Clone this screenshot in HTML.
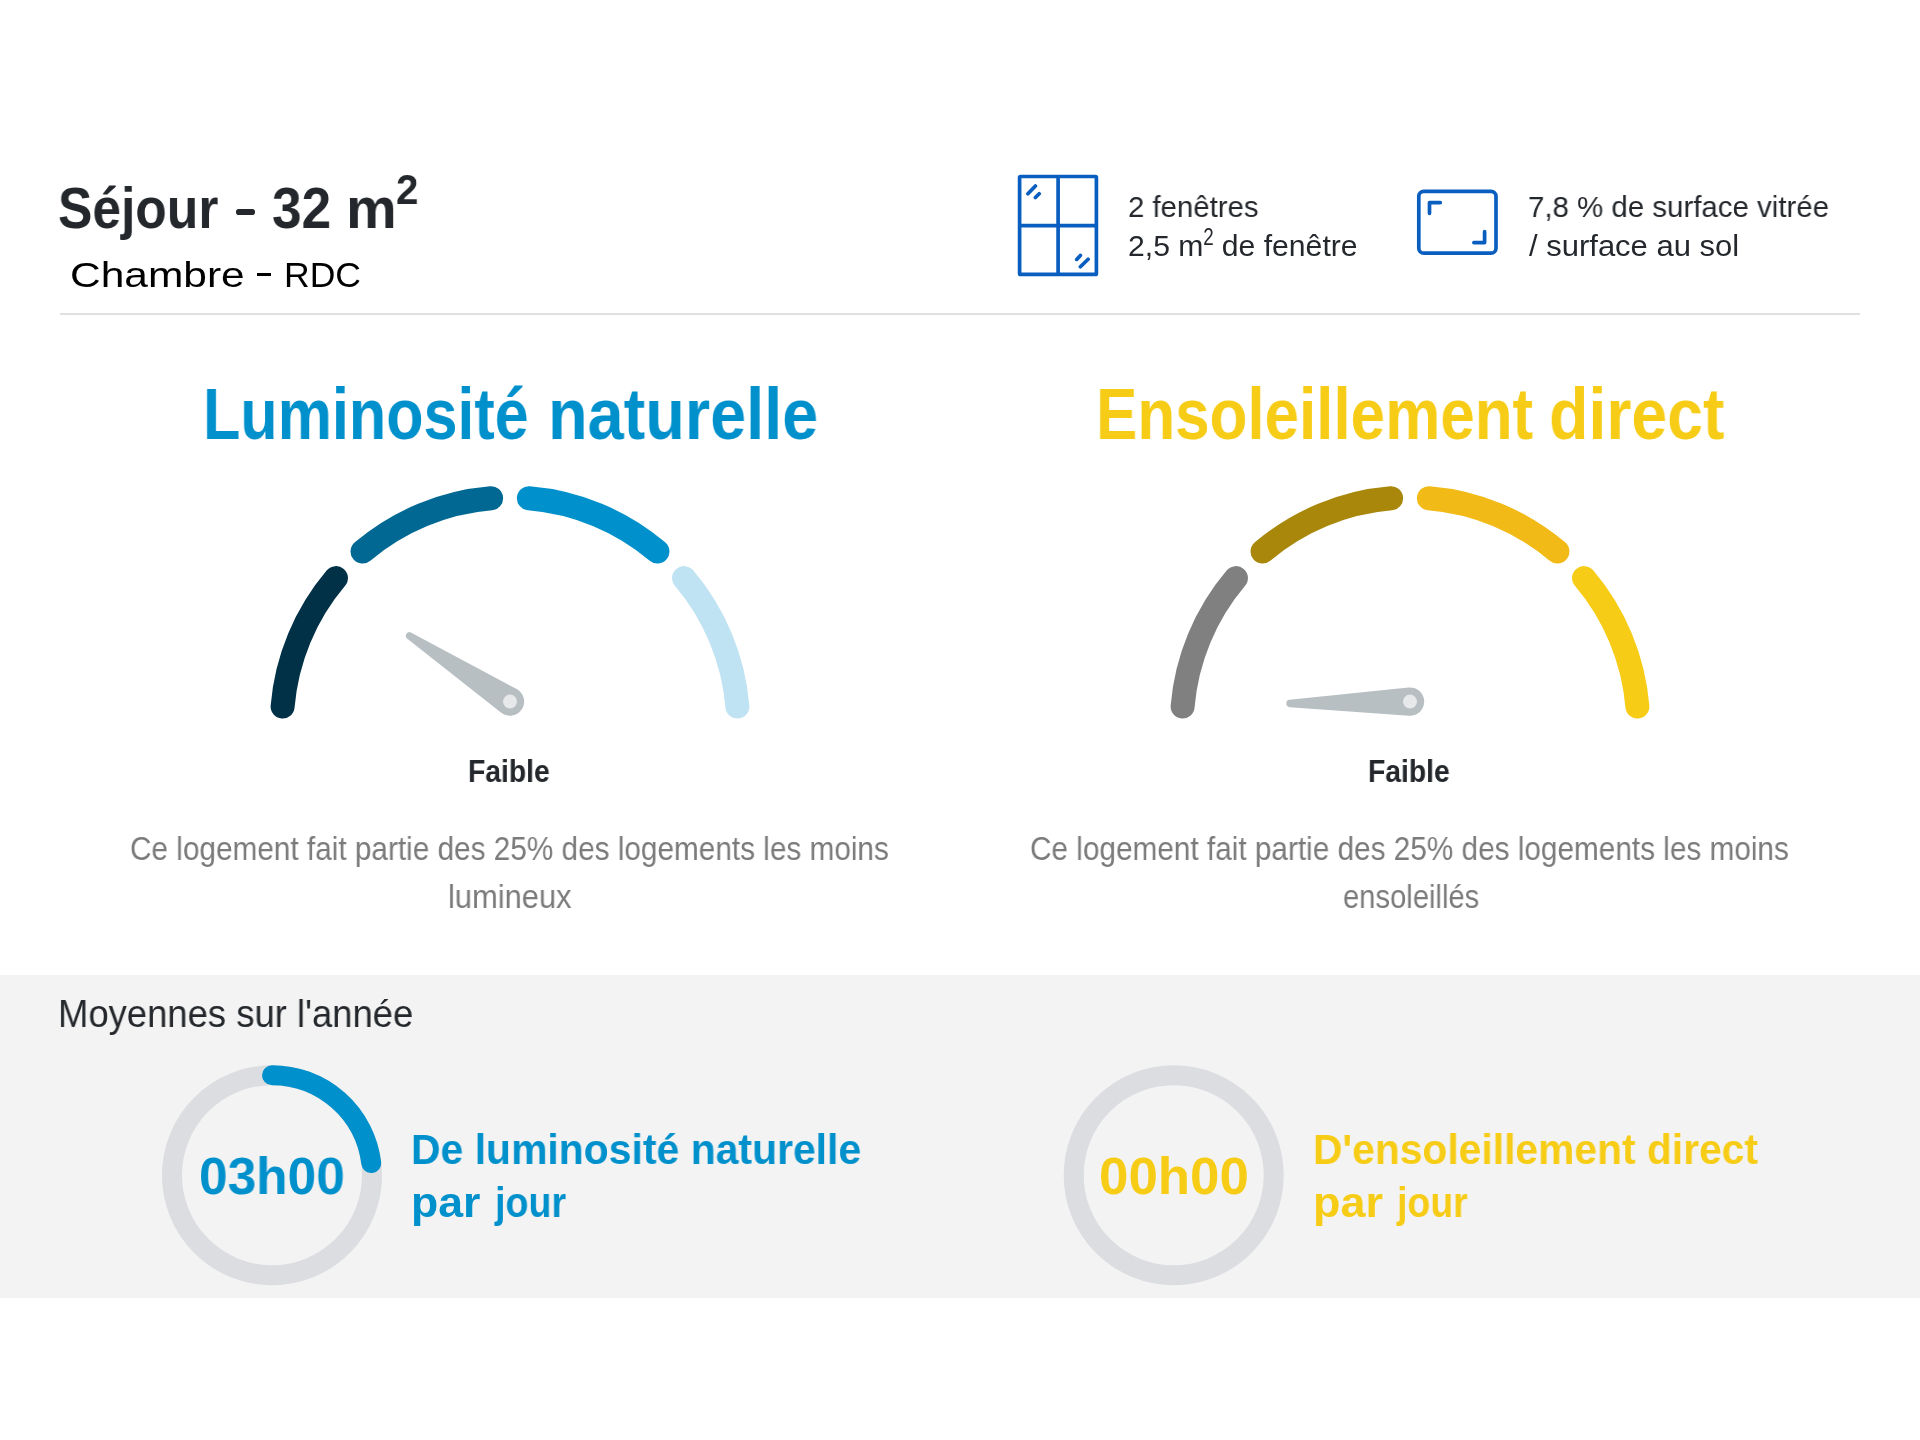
<!DOCTYPE html>
<html lang="fr"><head><meta charset="utf-8"><title>Luminosité</title>
<style>
html,body{margin:0;padding:0;background:#fff;}
body{width:1920px;height:1440px;position:relative;overflow:hidden;font-family:"Liberation Sans",sans-serif;}
.t{position:absolute;white-space:nowrap;will-change:transform;}
.t sup{font-size:72%;line-height:0;vertical-align:baseline;position:relative;}
#band{position:absolute;left:0;top:975.4px;width:1920px;height:323px;background:#F3F3F3;}
#hr{position:absolute;left:60px;top:313.3px;width:1800px;height:2px;background:#E0E0E0;}
svg{position:absolute;left:0;top:0;}
</style></head><body>
<div id="band"></div>
<div id="hr"></div>
<svg width="1920" height="1440" viewBox="0 0 1920 1440">
<g id="icon-window" stroke="#0A5EC0" stroke-width="3.7" fill="none" stroke-linecap="round" stroke-linejoin="round">
<rect x="1019.6" y="176.5" width="76.8" height="97.9" rx="1"/>
<path d="M1058.1 176.5V274.4M1019.6 225.6H1096.4" stroke-linecap="butt"/>
<path d="M1027.9 193.75L1035.4 186M1035.4 197.5L1039.2 193.75M1076.7 259.4L1080.4 255.4M1080.4 266.8L1088.1 259.2" stroke-width="3.7"/>
</g>
<g id="icon-surface" stroke="#0A5EC0" stroke-width="3.7" fill="none" stroke-linecap="round" stroke-linejoin="round">
<rect x="1418.8" y="191.4" width="77.2" height="61.8" rx="5"/>
<path d="M1440.3 202.6H1429.5V213.3M1473.9 242.6H1484.6V231.7" stroke-width="3.7"/>
</g>
<g id="gauge1"><path d="M282.61 706.49 A228.2 228.2 0 0 1 335.96 578.10" stroke="#003146" stroke-width="24" stroke-linecap="round" fill="none"/><path d="M362.55 551.53 A228.2 228.2 0 0 1 491.10 498.28" stroke="#006892" stroke-width="24" stroke-linecap="round" fill="none"/><path d="M528.90 498.28 A228.2 228.2 0 0 1 657.45 551.53" stroke="#0090CB" stroke-width="24" stroke-linecap="round" fill="none"/><path d="M684.04 578.10 A228.2 228.2 0 0 1 737.39 706.49" stroke="#BFE3F2" stroke-width="24" stroke-linecap="round" fill="none"/><path d="M516.71 689.08 L411.34 632.63 A3.7 3.7 0 0 0 407.30 638.80 L501.21 712.76 A14.2 14.2 0 1 0 516.71 689.08 Z" fill="#B8BFC2"/><circle cx="510" cy="701.6" r="7" fill="#E7E8EA"/></g>
<g id="gauge2"><path d="M1182.61 706.49 A228.2 228.2 0 0 1 1235.96 578.10" stroke="#808080" stroke-width="24" stroke-linecap="round" fill="none"/><path d="M1262.55 551.53 A228.2 228.2 0 0 1 1391.10 498.28" stroke="#A8870A" stroke-width="24" stroke-linecap="round" fill="none"/><path d="M1428.90 498.28 A228.2 228.2 0 0 1 1557.45 551.53" stroke="#F2BA17" stroke-width="24" stroke-linecap="round" fill="none"/><path d="M1584.04 578.10 A228.2 228.2 0 0 1 1637.39 706.49" stroke="#F7CC16" stroke-width="24" stroke-linecap="round" fill="none"/><path d="M1408.53 687.48 L1289.63 699.85 A3.7 3.7 0 0 0 1289.75 707.22 L1408.98 715.76 A14.2 14.2 0 1 0 1408.53 687.48 Z" fill="#B8BFC2"/><circle cx="1410" cy="701.6" r="7" fill="#E7E8EA"/></g>
<g id="donut1"><circle cx="272" cy="1175.2" r="100" stroke="#DCDDE0" stroke-width="20" fill="none"/><path d="M272 1075.2 A100 100 0 0 1 371.25 1163.01" stroke="#0090CB" stroke-width="20" stroke-linecap="round" fill="none"/></g>
<g id="donut2"><circle cx="1173.7" cy="1175.2" r="100" stroke="#DCDDE0" stroke-width="20" fill="none"/></g>
</svg>
<div id="t1a" class="t" style="left:58.08px;top:178.60px;font-size:58px;line-height:58px;color:#24272B;font-weight:700;letter-spacing:0px;word-spacing:0px;transform:scaleX(0.8879);transform-origin:0 0;">Séjour</div>
<div id="t1b" class="t" style="left:272.39px;top:178.60px;font-size:58px;line-height:58px;color:#24272B;font-weight:700;letter-spacing:0px;word-spacing:0px;transform:scaleX(0.9165);transform-origin:0 0;">32</div>
<div id="t1c" class="t" style="left:345.77px;top:178.60px;font-size:58px;line-height:58px;color:#24272B;font-weight:700;letter-spacing:0px;word-spacing:0px;transform:scaleX(0.983);transform-origin:0 0;">m</div>
<div id="t1d" class="t" style="left:396.36px;top:169.25px;font-size:42px;line-height:42px;color:#24272B;font-weight:700;letter-spacing:0px;word-spacing:0px;transform:scaleX(0.9588);transform-origin:0 0;">2</div>
<div id="t2a" class="t" style="left:70.29px;top:258.30px;font-size:34.5px;line-height:34.5px;color:#000;font-weight:400;letter-spacing:0px;word-spacing:0px;transform:scaleX(1.2311);transform-origin:0 0;">Chambre</div>
<div id="t2b" class="t" style="left:283.94px;top:258.30px;font-size:34.5px;line-height:34.5px;color:#000;font-weight:400;letter-spacing:0px;word-spacing:0px;transform:scaleX(1.0307);transform-origin:0 0;">RDC</div>
<div id="t3" class="t" style="left:1127.73px;top:191.50px;font-size:30px;line-height:30px;color:#24282D;font-weight:400;letter-spacing:0px;word-spacing:0px;transform:scaleX(0.9782);transform-origin:0 0;">2 fenêtres</div>
<div id="t4" class="t" style="left:1127.7px;top:231.10px;font-size:30px;line-height:30px;color:#24282D;font-weight:400;letter-spacing:0px;word-spacing:0px;transform:scaleX(1.0049);transform-origin:0 0;">2,5 m<sup style="display:inline-block;font-size:78%;top:-0.474em;transform:scaleX(.8);transform-origin:0 50%;margin-right:-0.13em">2</sup> de fenêtre</div>
<div id="t5" class="t" style="left:1527.57px;top:191.50px;font-size:30px;line-height:30px;color:#24282D;font-weight:400;letter-spacing:0px;word-spacing:0px;transform:scaleX(0.9809);transform-origin:0 0;">7,8 % de surface vitrée</div>
<div id="t6" class="t" style="left:1529.43px;top:231.21px;font-size:30px;line-height:30px;color:#24282D;font-weight:400;letter-spacing:0px;word-spacing:0px;transform:scaleX(1.033);transform-origin:0 0;">/ surface au sol</div>
<div id="t9" class="t" style="left:468.2px;top:754.61px;font-size:32px;line-height:32px;color:#24272B;font-weight:700;letter-spacing:0px;word-spacing:0px;transform:scaleX(0.8837);transform-origin:0 0;">Faible</div>
<div id="t9b" class="t" style="left:1368.2px;top:754.61px;font-size:32px;line-height:32px;color:#24272B;font-weight:700;letter-spacing:0px;word-spacing:0px;transform:scaleX(0.8837);transform-origin:0 0;">Faible</div>
<div id="t10" class="t" style="left:130.3px;top:832.07px;font-size:33px;line-height:33px;color:#7B7B7B;font-weight:400;letter-spacing:0px;word-spacing:0px;transform:scaleX(0.9013);transform-origin:0 0;">Ce logement fait partie des 25% des logements les moins</div>
<div id="t10l" class="t" style="left:447.61px;top:879.57px;font-size:33px;line-height:33px;color:#7B7B7B;font-weight:400;letter-spacing:0px;word-spacing:0px;transform:scaleX(0.9356);transform-origin:0 0;">lumineux</div>
<div id="t10b" class="t" style="left:1030.3px;top:832.07px;font-size:33px;line-height:33px;color:#7B7B7B;font-weight:400;letter-spacing:0px;word-spacing:0px;transform:scaleX(0.9013);transform-origin:0 0;">Ce logement fait partie des 25% des logements les moins</div>
<div id="t10bl" class="t" style="left:1342.52px;top:879.57px;font-size:33px;line-height:33px;color:#7B7B7B;font-weight:400;letter-spacing:0px;word-spacing:0px;transform:scaleX(0.8842);transform-origin:0 0;">ensoleillés</div>
<div id="t11" class="t" style="left:57.98px;top:994.73px;font-size:38px;line-height:38px;color:#24272B;font-weight:400;letter-spacing:0px;word-spacing:0px;transform:scaleX(0.9586);transform-origin:0 0;">Moyennes sur l'année</div>
<div id="t12" class="t" style="left:198.71px;top:1150.08px;font-size:52px;line-height:52px;color:#0090CB;font-weight:700;letter-spacing:0px;word-spacing:0px;transform:scaleX(0.9896);transform-origin:0 0;">03h00</div>
<div id="t13" class="t" style="left:410.69px;top:1128.10px;font-size:43px;line-height:43px;color:#0090CB;font-weight:700;letter-spacing:0px;word-spacing:0px;transform:scaleX(0.9515);transform-origin:0 0;">De luminosité naturelle</div>
<div id="t14" class="t" style="left:1098.78px;top:1150.08px;font-size:52px;line-height:52px;color:#F7CC16;font-weight:700;letter-spacing:0px;word-spacing:0px;transform:scaleX(1.0167);transform-origin:0 0;">00h00</div>
<div id="t15" class="t" style="left:1313.11px;top:1128.00px;font-size:43px;line-height:43px;color:#F7CC16;font-weight:700;letter-spacing:0px;word-spacing:0px;transform:scaleX(0.9486);transform-origin:0 0;">D'ensoleillement direct</div>
<div id="t7_0" class="t" style="left:202.83px;top:378.05px;font-size:72px;line-height:72px;color:#0090CB;font-weight:700;letter-spacing:0px;word-spacing:0px;transform:scaleX(0.848);transform-origin:0 0;">Luminosité</div>
<div id="t7_1" class="t" style="left:547.57px;top:378.05px;font-size:72px;line-height:72px;color:#0090CB;font-weight:700;letter-spacing:0px;word-spacing:0px;transform:scaleX(0.9005);transform-origin:0 0;">naturelle</div>
<div id="t8_0" class="t" style="left:1095.54px;top:378.05px;font-size:72px;line-height:72px;color:#F7CC16;font-weight:700;letter-spacing:0px;word-spacing:0px;transform:scaleX(0.8601);transform-origin:0 0;">Ensoleillement</div>
<div id="t8_1" class="t" style="left:1548.62px;top:378.05px;font-size:72px;line-height:72px;color:#F7CC16;font-weight:700;letter-spacing:0px;word-spacing:0px;transform:scaleX(0.895);transform-origin:0 0;">direct</div>
<div id="t13l_0" class="t" style="left:410.61px;top:1180.60px;font-size:43px;line-height:43px;color:#0090CB;font-weight:700;letter-spacing:0px;word-spacing:0px;transform:scaleX(1.0381);transform-origin:0 0;">par</div>
<div id="t13l_1" class="t" style="left:494.78px;top:1180.60px;font-size:43px;line-height:43px;color:#0090CB;font-weight:700;letter-spacing:0px;word-spacing:0px;transform:scaleX(0.875);transform-origin:0 0;">jour</div>
<div id="t15l_0" class="t" style="left:1312.67px;top:1180.60px;font-size:43px;line-height:43px;color:#F7CC16;font-weight:700;letter-spacing:0px;word-spacing:0px;transform:scaleX(1.0445);transform-origin:0 0;">par</div>
<div id="t15l_1" class="t" style="left:1397.08px;top:1180.60px;font-size:43px;line-height:43px;color:#F7CC16;font-weight:700;letter-spacing:0px;word-spacing:0px;transform:scaleX(0.8702);transform-origin:0 0;">jour</div>
<div id="h1" style="position:absolute;left:235.8px;top:209.0px;width:18.8px;height:5.6px;border-radius:2.8px;background:#24272B;font-size:0;overflow:hidden">-</div>
<div id="h2" style="position:absolute;left:256.7px;top:273.0px;width:14.6px;height:2.5px;border-radius:0px;background:#000;font-size:0;overflow:hidden">-</div>
</body></html>
